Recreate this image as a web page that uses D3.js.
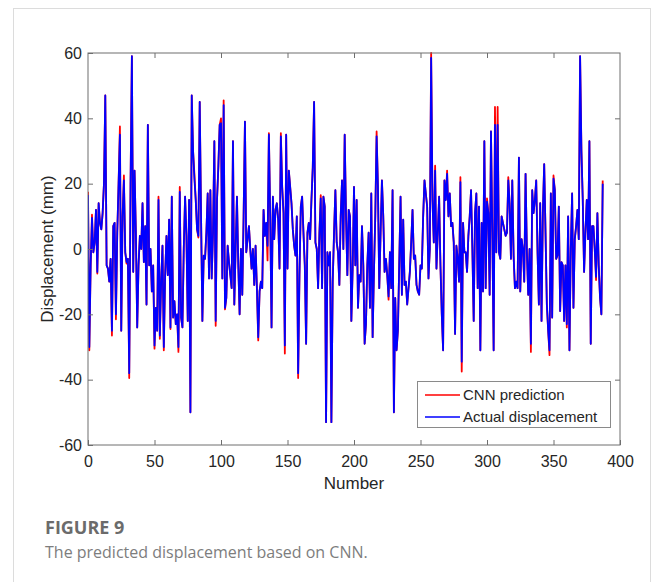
<!DOCTYPE html>
<html>
<head>
<meta charset="utf-8">
<script src="https://cdn.jsdelivr.net/npm/d3@7"></script>
<style>
  body { margin: 0; background: #fff; }
</style>
</head>
<body>
<div class="container"></div>
<script>
// values, index = sample number
const actual = [
  16.5, -30, -5, 9.5, -1, 2, 12, -7, 14, 8, 6, 11, 20, 47, -5, -6, -10, -3, -25, 7,
  8, -20, 5, 20, 35, -25, 10, 21, -1, -4, -3, -38, 20, 59, -7, 24, 5, -24, -5, 4,
  0, 14, -4, 7, -17, 38, -5, 0, -13, -5, -29.5, -18, -25, 15, -26.5, -10, 1, -30, -8, 4,
  -8, 9, -24, 16, -21, -16, -23, -20, -30, 17.5, -21, -24, 0, 16, 4, -22, 15, -50, 47, 30,
  21.5, 15, 6, 4, 45, 10, -22, -2, -3, 5, 17, -9, 18, -9, 5, 33, -22, 15, 25, 38,
  38.5, -9, 44, -18, -15, 1, -4, -8, -12, 33, -17, 0, 16, -5, -20, 0, -14, 10, 39, -1,
  3, 7, 0, -6, 0, -11, 1, -12, -27, -13, -10, -12, 12, 4, 8, 1, 35, 10, -24, 16,
  3, 12, 14, 9, -6, 34.5, 19, 11, -29.5, 35, -6, 24, 19, 14, 6, 1, -2, 10, -38, -8,
  13, 16, 5, -5, -29, 5, 8, 3, 15, 25, 45, 2, 0, -12, 5, 15.5, -12, 16, 13, -53,
  -1, -5, -1, -53, -10, 5, 18, 2, -1, -11, 10, 21, 0, 35, 10, -8, 12, 10, -22, -6,
  19, -5, 15, -18, -8, -10, 7, -5, -29, -23, -5, 5, -18, 17, -27, -7, 10, 34.5, 19, -12,
  5, 21, 10, -7, -3, -8, -14.5, -1, -12, 18, -50, -15, -31, -25, -5, 16, -14, 9, -11, -10,
  -17, -12, -7, 2, 12, -3, -2, -11, -13, -14, -5, -6, 10, 21, 17, 13, -9, 0, 58.5, 15,
  2, 24, -6, 5, 16, -5, -20, -31, 21, 15, 23, 10, 17, 7, 8, 2, -26, 1, -3, -10,
  20.5, -34.5, 8, -1, -1, -7, 4, 10, 18, 0, -22, 11, 17, -12, 13, -31, 8, -13, 33, -12,
  14.5, 11, -14, 36, 5, -31, 38, -1, 38, -1, -3, 10, 8, 6, 4, 5, 21, 14, -3, 21,
  -2, -12, -10, -12, 28, -13, 3, 0, -10, 23, -1, -14, 0, -29, 18, 11, 15, 21, -1, -17,
  14, -22, 11, 26, 5, -17, -25, -31, 17, -21, 21.5, 18, -3, -2, 13, -19, -4, -5, -22, -5,
  -23, 10, -31, 0, 17, -18, 3, 7, 12, 3, 59, 30, 15, -7, 5, 15, 3, 33, -29, 7,
  7, 0, -8.5, 11, -5, -15, -20, 20
];

const prediction = [
  17.5, -31, -5, 10.5, -1, 2, 12, -7.5, 14, 8, 6, 11, 20, 47, -5, -6, -10, -3, -26.5, 7,
  8, -21.5, 5, 20, 37.5, -25, 10, 22.5, -1, -4.5, -3, -39.5, 20, 59, -7, 24, 5, -24, -5, 4,
  0, 14, -4, 7, -17, 38, -5, 0, -13, -5, -30.5, -18, -25, 16, -27.5, -10, 1, -31, -8, 4,
  -8, 9, -24.5, 16, -21, -16, -23, -20, -31.5, 19, -21, -24, 0, 16, 4, -22, 15, -50, 47, 30,
  23, 15, 6, 3.5, 45, 10, -22, -2, -3, 5, 17, -9, 18, -9, 5, 33, -23.5, 15, 25, 38,
  40, -9, 45.5, -18.5, -15, 1, -4, -8, -12, 33, -17, 0, 16, -5, -20, 0, -14, 10, 39, -1,
  3, 7, 0, -6, 0, -11, 1, -12, -28, -13, -10, -12, 12, 4, 8, -3.5, 35.5, 10, -24, 16,
  3, 12, 14, 9, -6, 35.5, 19, 11, -32, 35, -6, 24, 19, 14, 6, 1, -2, 10, -39.5, -8,
  13, 16, 5, -5, -29, 5, 8, 3, 15, 25, 45, 2, 0, -12, 5, 16.5, -12, 16, 13, -53,
  -1, -5, -1, -53, -10, 5, 18, 2, -1, -11, 10, 21, 0, 35, 10, -8, 12, 10, -22, -6,
  19, -5, 15, -18, -8, -10, 7, -5, -29, -23, -5, 5, -18, 17, -27, -7, 10, 36, 19, -12,
  5, 21, 10, -7, -3, -8, -15.5, -1, -12, 18, -50, -15, -31, -25, -5, 16, -14, 9, -11, -10,
  -17, -12, -7, 2, 12, -3, -2, -11, -13, -14, -5, -6, 10, 21, 17, 13, -9, 0, 60, 15,
  2, 25.5, -6, 5, 16, -5, -20, -31, 21, 15, 24, 10, 17, 7, 8, 2, -26, 1, -3, -10,
  22, -37.5, 8, -1, -1, -7, 4, 10, 18, 0, -22, 11, 17, -12, 13, -31, 8, -13, 33, -12,
  15.5, 11, -14, 36, 5, -31, 43.5, -1, 43.5, -1, -3, 10, 8, 6, 4, 5, 22, 14, -3, 21,
  -2, -12, -10, -12, 28, -13, 3, 0, -10, 23, -1, -14, 0, -31.5, 18, 11, 15, 21, -1, -17,
  14, -22, 11, 26, 5, -17, -25, -32.5, 17, -21, 22.5, 18, -3, -2, 13, -19, -4, -5, -22, -5,
  -24, 10, -31, 0, 17, -18, 3, 7, 12, 3, 59, 30, 15, -7, 5, 15, 3, 33, -29, 7,
  7, 0, -9.5, 11, -5, -15, -20, 21
];

const xTicks = [0, 50, 100, 150, 200, 250, 300, 350, 400];
const yTicks = [-60, -40, -20, 0, 20, 40, 60];
const seriesNames = ['CNN prediction', 'Actual displacement'];
const seriesColors = ['#ff0000', '#0000ff'];

const width = 656;
const height = 582;
const plotLeft = 88, plotRight = 620, plotTop = 53, plotBottom = 445;
const chartFont = 'Arial, "Liberation Sans", Helvetica, sans-serif';

const svg = d3.select('.container')
  .append('svg')
  .attr('width', width)
  .attr('height', height)
  .style('font-family', chartFont);

// card frame
svg.append('rect')
  .attr('x', 13.5).attr('y', 8.5)
  .attr('width', 637).attr('height', 620)
  .attr('fill', 'none')
  .attr('stroke', '#dcdcdc');

const x = d3.scaleLinear().domain([0, 400]).range([plotLeft, plotRight]);
const y = d3.scaleLinear().domain([-60, 60]).range([plotBottom, plotTop]);

svg.append('clipPath').attr('id', 'plot-clip')
  .append('rect')
  .attr('x', plotLeft).attr('y', plotTop - 1)
  .attr('width', plotRight - plotLeft).attr('height', plotBottom - plotTop + 2);

const line = d3.line()
  .x((d, i) => x(i))
  .y(d => y(d));

const lines = svg.append('g').attr('clip-path', 'url(#plot-clip)');
[prediction, actual].forEach((series, k) => {
  lines.append('path')
    .datum(series)
    .attr('d', line)
    .attr('fill', 'none')
    .attr('stroke', seriesColors[k])
    .attr('stroke-width', 1.8)
    .attr('stroke-linejoin', 'round');
});

// axes, ticks pointing inward, plain hyphen for negatives
const axisColor = '#6e6e6e';
const plainNum = d => String(d);
const styleAxis = g => {
  g.attr('font-family', null);
  g.select('.domain').remove();
  g.selectAll('.tick line').attr('stroke', axisColor);
  g.selectAll('.tick text')
    .attr('fill', '#262626')
    .style('font-size', '16px')
    .style('font-family', chartFont);
};

svg.append('g')
  .attr('transform', `translate(0,${plotBottom})`)
  .call(d3.axisBottom(x).tickValues(xTicks).tickFormat(plainNum).tickSize(-5).tickPadding(11))
  .call(styleAxis);

svg.append('g')
  .attr('transform', `translate(0,${plotTop})`)
  .call(d3.axisTop(x).tickValues(xTicks.slice(1, -1)).tickSize(-5).tickFormat(''))
  .call(styleAxis);

svg.append('g')
  .attr('transform', `translate(${plotLeft},0)`)
  .call(d3.axisLeft(y).tickValues(yTicks).tickFormat(plainNum).tickSize(-5).tickPadding(6))
  .call(styleAxis);

svg.append('g')
  .attr('transform', `translate(${plotRight},0)`)
  .call(d3.axisRight(y).tickValues(yTicks.slice(1, -1)).tickSize(-5).tickFormat(''))
  .call(styleAxis);

svg.append('rect')
  .attr('x', plotLeft).attr('y', plotTop)
  .attr('width', plotRight - plotLeft).attr('height', plotBottom - plotTop)
  .attr('fill', 'none')
  .attr('stroke', axisColor);

// axis titles
svg.append('text')
  .attr('x', (plotLeft + plotRight) / 2)
  .attr('y', 489)
  .attr('text-anchor', 'middle')
  .attr('fill', '#262626')
  .style('font-size', '17px')
  .text('Number');

svg.append('text')
  .attr('transform', `translate(53,${(plotTop + plotBottom) / 2}) rotate(-90)`)
  .attr('text-anchor', 'middle')
  .attr('fill', '#262626')
  .style('font-size', '17px')
  .text('Displacement (mm)');

// legend
const legend = svg.append('g');
legend.append('rect')
  .attr('x', 417.5).attr('y', 381.5)
  .attr('width', 193).attr('height', 46)
  .attr('fill', '#fff')
  .attr('stroke', '#8a8a8a');

seriesNames.forEach((name, k) => {
  const ly = 395 + k * 22;
  legend.append('line')
    .attr('x1', 425).attr('x2', 460)
    .attr('y1', ly).attr('y2', ly)
    .attr('stroke', seriesColors[k])
    .attr('stroke-width', 1.5);
  legend.append('text')
    .attr('x', 463).attr('y', ly)
    .attr('dy', '0.35em')
    .attr('fill', '#262626')
    .style('font-size', '15px')
    .text(name);
});

// caption
svg.append('text')
  .attr('x', 45).attr('y', 534)
  .attr('fill', '#6b6b6b')
  .style('font-family', '"Open Sans", sans-serif')
  .style('font-weight', 'bold')
  .style('font-size', '18px')
  .text('FIGURE 9');

svg.append('text')
  .attr('x', 45).attr('y', 558)
  .attr('fill', '#7d7d7d')
  .style('font-family', '"Open Sans", sans-serif')
  .style('font-size', '16px')
  .text('The predicted displacement based on CNN.');
</script>
</body>
</html>
